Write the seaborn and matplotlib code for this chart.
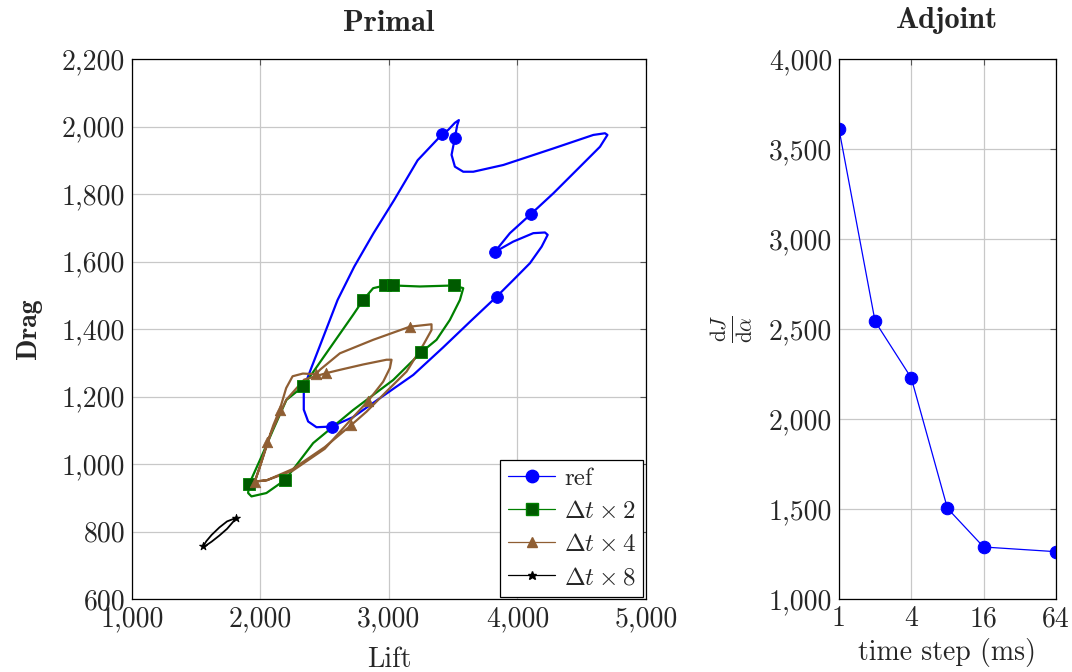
import matplotlib
matplotlib.use("Agg")
import matplotlib.pyplot as plt
from matplotlib.lines import Line2D
from matplotlib.ticker import FuncFormatter, FixedLocator, NullLocator
import seaborn as sns

# ---- Primal: lift / drag trajectories ----
ref_lift = [2553, 2721, 2929, 3189, 3420, 3640, 3838, 3967, 4097, 4188, 4235, 4214, 4123, 3967, 3822,
            3941, 4103, 4279, 4487, 4642, 4700, 4681, 4590, 4279, 3890, 3656, 3578, 3513, 3487, 3513,
            3531, 3544, 3513, 3461, 3414, 3223, 3040, 2880, 2730, 2600, 2450, 2400, 2365, 2337, 2337,
            2371, 2436, 2553]
ref_drag = [1111, 1139, 1195, 1264, 1345, 1425, 1496, 1545, 1595, 1644, 1679, 1686, 1684, 1659, 1628,
            1684, 1740, 1802, 1881, 1940, 1975, 1980, 1975, 1935, 1886, 1866, 1866, 1881, 1916, 1967,
            2004, 2019, 2011, 1990, 1977, 1900, 1782, 1684, 1585, 1486, 1338, 1289, 1254, 1210, 1161,
            1126, 1109, 1111]
ref_mark_lift = [3414, 3513, 4103, 3822, 3838, 2553]
ref_mark_drag = [1977, 1967, 1740, 1628, 1496, 1111]

dt2_lift = [1911, 2008, 2098, 2202, 2332, 2721, 2799, 2877, 2968, 3033, 3241, 3505, 3578, 3552, 3474,
            3370, 3251, 3033, 2721, 2410, 2192, 2046, 1930, 1904, 1911]
dt2_drag = [940, 1022, 1101, 1190, 1230, 1442, 1486, 1521, 1529, 1529, 1526, 1529, 1521, 1486, 1427,
            1368, 1331, 1249, 1160, 1062, 953, 914, 904, 914, 940]
dt2_mark_lift = [2799, 2968, 3033, 3505, 3251, 2332, 1911, 2192]
dt2_mark_drag = [1486, 1529, 1529, 1529, 1331, 1230, 940, 953]

dt4_lift = [1956, 2010, 2054, 2100, 2150, 2200, 2250, 2330, 2431, 2462, 2618, 2877, 3163, 3331, 3331,
            3267, 3137, 2981, 2825, 2708, 2500, 2250, 2050, 1956,
            1990, 2080, 2200, 2340, 2509, 2618, 2800, 2981, 3020, 3007, 2955, 2838, 2700, 2500, 2250,
            2050, 1956]
dt4_drag = [948, 1010, 1064, 1115, 1161, 1225, 1260, 1268, 1266, 1279, 1328, 1368, 1407, 1414, 1397,
            1353, 1274, 1215, 1155, 1116, 1050, 985, 952, 948,
            985, 1090, 1190, 1250, 1269, 1279, 1295, 1309, 1309, 1284, 1244, 1187, 1130, 1045, 980,
            952, 948]
dt4_mark_lift = [3163, 2431, 2509, 2150, 2838, 2708, 2054, 1956]
dt4_mark_drag = [1407, 1266, 1269, 1161, 1187, 1116, 1064, 948]

dt8_lift = [1553, 1580, 1620, 1680, 1740, 1808, 1790, 1740, 1680, 1620, 1570, 1553]
dt8_drag = [756, 772, 790, 812, 830, 840, 830, 808, 788, 770, 757, 756]
dt8_mark_lift = [1553, 1808]
dt8_mark_drag = [756, 840]

# ---- Adjoint: gradient vs time step ----
time_step = [1, 2, 4, 8, 16, 64]
dJ_dalpha = [3612, 2542, 2228, 1504, 1289, 1263]

sns.set_style("whitegrid")
plt.rcParams["font.family"] = ["cmr10", "DejaVu Serif"]
plt.rcParams["mathtext.fontset"] = "cm"
plt.rcParams["axes.formatter.use_mathtext"] = True
plt.rcParams["axes.unicode_minus"] = False

fig = plt.figure(figsize=(10.72, 6.72), dpi=100)
ax1 = fig.add_axes([0.1231, 0.1086, 0.4795, 0.8036])
ax2 = fig.add_axes([0.7826, 0.1086, 0.2024, 0.8036])

blue = "#0000ff"
green = "#008000"
dgreen = "#005a00"
brown = "#8f5e33"

series = [
    (ref_lift, ref_drag, ref_mark_lift, ref_mark_drag, blue, blue, "o", 8.5, "ref"),
    (dt2_lift, dt2_drag, dt2_mark_lift, dt2_mark_drag, green, dgreen, "s", 8, r"$\Delta t \times 2$"),
    (dt4_lift, dt4_drag, dt4_mark_lift, dt4_mark_drag, brown, brown, "^", 7.5, r"$\Delta t \times 4$"),
    (dt8_lift, dt8_drag, dt8_mark_lift, dt8_mark_drag, "black", "black", "*", 6, r"$\Delta t \times 8$"),
]
handles = []
for lx, ly, mx, my, lc, mc, mk, ms, lab in series:
    lw = 1.6 if lc != "black" else 1.3
    sns.lineplot(x=lx, y=ly, sort=False, estimator=None, color=lc, lw=lw, ax=ax1)
    edge = green if mk == "s" else mc
    sns.scatterplot(x=mx, y=my, marker=mk, s=ms ** 2, color=mc, edgecolor=edge,
                    linewidth=0.6, zorder=5, ax=ax1)
    handles.append(Line2D([], [], color=lc, lw=0.9, marker=mk, markersize=ms * 1.05,
                          markerfacecolor=mc, markeredgecolor=edge, label=lab))

comma = FuncFormatter(lambda v, p: f"{v:,.0f}")

ax1.set_xlim(1000, 5000)
ax1.set_ylim(600, 2200)
ax1.set_xticks([1000, 2000, 3000, 4000, 5000])
ax1.set_yticks(range(600, 2201, 200))
ax1.xaxis.set_major_formatter(comma)
ax1.yaxis.set_major_formatter(comma)
ax1.set_title("Primal", fontsize=22, fontfamily="cmb10", pad=20)
ax1.set_xlabel("Lift", fontsize=20, labelpad=10)
ax1.set_ylabel("Drag", fontsize=20, fontfamily="cmb10", labelpad=14)
leg = ax1.legend(handles=handles, loc="lower right", fontsize=18, frameon=True, fancybox=False,
                 framealpha=1, edgecolor="black", borderpad=0.3, handlelength=1.9,
                 handletextpad=0.35, labelspacing=0.42, borderaxespad=0.1)
leg.get_frame().set_linewidth(0.9)

sns.lineplot(x=time_step, y=dJ_dalpha, color=blue, lw=0.9, marker="o", markersize=9,
             markeredgecolor=blue, ax=ax2)
ax2.set_xscale("log", base=2)
ax2.set_xlim(1, 64)
ax2.xaxis.set_major_locator(FixedLocator([1, 4, 16, 64]))
ax2.xaxis.set_minor_locator(NullLocator())
ax2.xaxis.set_major_formatter(FuncFormatter(lambda v, p: f"{v:.0f}"))
ax2.set_ylim(1000, 4000)
ax2.set_yticks(range(1000, 4001, 500))
ax2.yaxis.set_major_formatter(comma)
ax2.set_title("Adjoint", fontsize=22, fontfamily="cmb10", pad=22)
ax2.set_xlabel("time step (ms)", fontsize=20, labelpad=4)
ax2.set_ylabel(r"$\frac{\mathrm{d}J}{\mathrm{d}\alpha}$", fontsize=22, labelpad=10)

for ax in (ax1, ax2):
    ax.grid(True, color="#c8c8c8", lw=0.9)
    ax.set_axisbelow(True)
    for s in ax.spines.values():
        s.set_color("black")
        s.set_linewidth(0.9)
    ax.tick_params(direction="in", length=4, width=0.8, color="#555555", labelsize=20,
                   top=True, right=True, pad=5)
    for lbl in ax.get_xticklabels() + ax.get_yticklabels():
        lbl.set_fontfamily("cmr10")

fig.savefig("out.png", dpi=100)
